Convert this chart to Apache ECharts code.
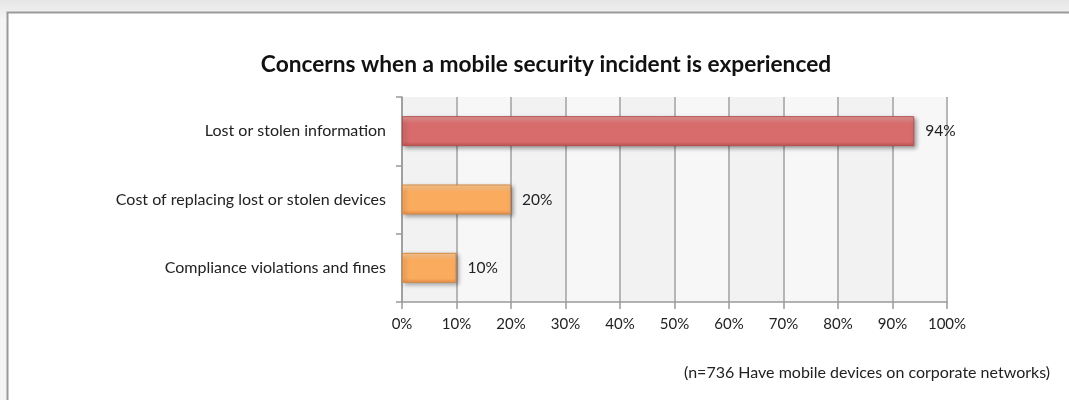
<!DOCTYPE html>
<html>
<head>
<meta charset="utf-8">
<script src="https://cdn.jsdelivr.net/npm/echarts@6/dist/echarts.min.js"></script>
<style>
  html, body { margin: 0; padding: 0; background: #ffffff; }
  #chart { width: 1069px; height: 400px; }
</style>
</head>
<body>
<div id="chart"></div>
<script>
// Survey: concerns when a mobile security incident is experienced
const categories = [
  'Lost or stolen information',
  'Cost of replacing lost or stolen devices',
  'Compliance violations and fines'
];
const shares = [94, 20, 10];
const tickValues = [0, 10, 20, 30, 40, 50, 60, 70, 80, 90, 100];

const FONT = 'Lato, "Open Sans", sans-serif';

// Bar fills: the first bar is highlighted in red, the others in orange
const palettes = [
  { top: '#ec9a9a', mid: '#d86c6c', bottom: '#bf5555', border: '#b45050' },
  { top: '#ffcd96', mid: '#fbab5e', bottom: '#e8924a', border: '#d48a45' },
  { top: '#ffcd96', mid: '#fbab5e', bottom: '#e8924a', border: '#d48a45' }
];

function barFill(p) {
  return new echarts.graphic.LinearGradient(0, 0, 0, 1, [
    { offset: 0, color: p.top },
    { offset: 0.25, color: p.mid },
    { offset: 0.85, color: p.mid },
    { offset: 1, color: p.bottom }
  ]);
}

const chart = echarts.init(document.getElementById('chart'), null, { renderer: 'canvas' });

chart.setOption({
  animation: false,
  backgroundColor: '#ffffff',
  graphic: [
    {
      type: 'rect',
      z: -10,
      shape: { x: 0, y: 0, width: 1069, height: 400 },
      style: {
        fill: new echarts.graphic.LinearGradient(0, 0, 0, 1, [
          { offset: 0, color: '#e6e6e6' },
          { offset: 0.05, color: '#f4f4f4' },
          { offset: 1, color: '#f4f4f4' }
        ])
      }
    },
    {
      type: 'rect',
      z: -9,
      shape: { x: 7.5, y: 12.5, width: 1080, height: 400 },
      style: { fill: '#ffffff', stroke: '#9a9a9a', lineWidth: 2 }
    },
    {
      type: 'text',
      right: 19,
      top: 365,
      style: {
        text: '(n=736 Have mobile devices on corporate networks)',
        font: '16px ' + FONT,
        fill: '#222222'
      }
    }
  ],
  title: {
    text: 'Concerns when a mobile security incident is experienced',
    left: 541,
    textAlign: 'center',
    top: 48,
    textStyle: { fontFamily: FONT, fontWeight: 'bold', fontSize: 22.7, color: '#111111' }
  },
  grid: { left: 402, right: 122, top: 97, bottom: 98, containLabel: false },
  xAxis: {
    type: 'value',
    min: tickValues[0],
    max: tickValues[tickValues.length - 1],
    interval: tickValues[1] - tickValues[0],
    axisLine: { show: true, lineStyle: { color: '#9a9a9a', width: 1.5 } },
    axisTick: { show: true, length: 7, lineStyle: { color: '#9a9a9a', width: 1.5 } },
    axisLabel: { formatter: '{value}%', margin: 15, fontFamily: FONT, fontSize: 15, color: '#222222' },
    splitLine: { show: true, lineStyle: { color: '#a0a0a0', width: 1.5 } },
    splitArea: { show: true, areaStyle: { color: ['#f2f2f2', '#f7f7f7'] } }
  },
  yAxis: {
    type: 'category',
    data: categories,
    inverse: true,
    axisLine: { show: true, lineStyle: { color: '#9a9a9a', width: 1.5 } },
    axisTick: { show: true, length: 6, lineStyle: { color: '#9a9a9a', width: 1.5 } },
    axisLabel: { margin: 16, fontFamily: FONT, fontSize: 16, color: '#222222' },
    splitLine: { show: false }
  },
  series: [
    {
      type: 'bar',
      barWidth: 30,
      data: shares.map((v, i) => ({
        value: v,
        itemStyle: {
          color: barFill(palettes[i]),
          borderColor: palettes[i].border,
          borderWidth: 1,
          shadowBlur: 4,
          shadowColor: 'rgba(0,0,0,0.35)',
          shadowOffsetX: 2,
          shadowOffsetY: 2
        }
      })),
      label: {
        show: true,
        position: 'right',
        distance: 11,
        formatter: '{c}%',
        fontFamily: FONT,
        fontSize: 15.5,
        color: '#222222'
      }
    }
  ]
});
</script>
</body>
</html>
